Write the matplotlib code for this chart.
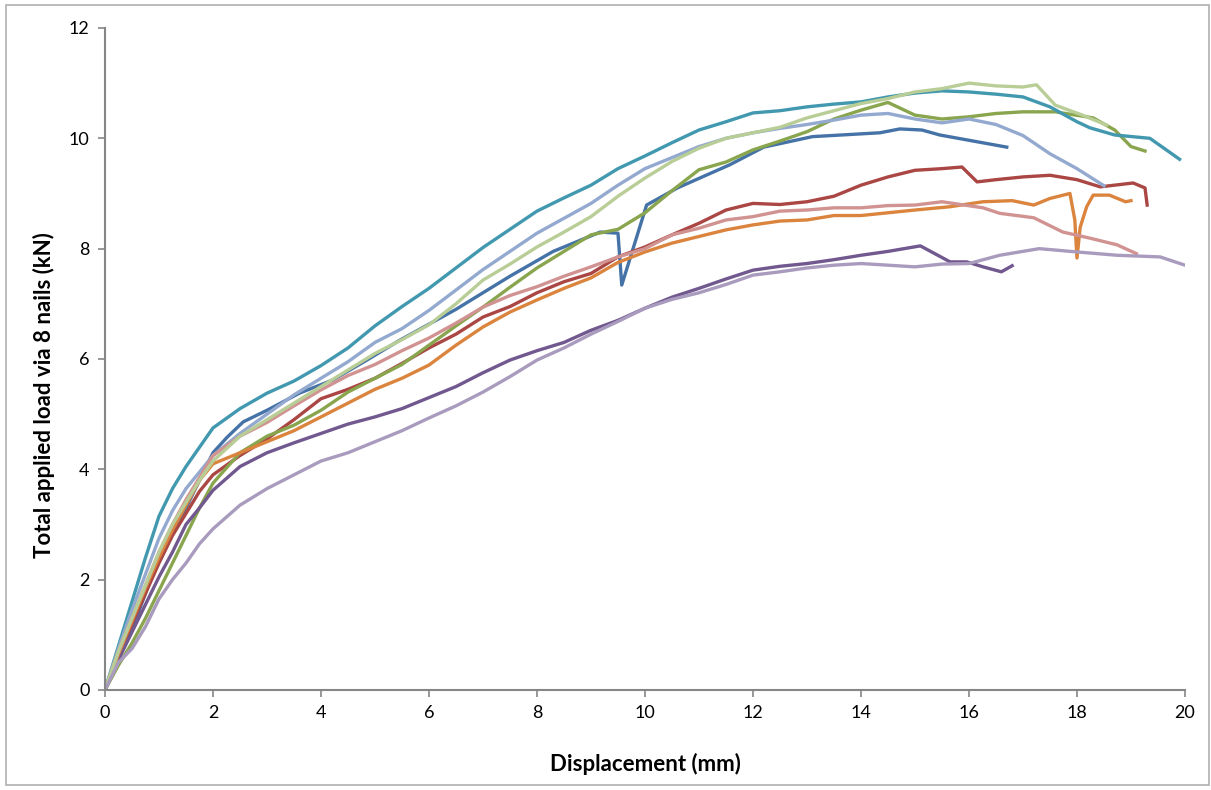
import matplotlib.pyplot as plt
from matplotlib.patches import Rectangle

plt.rcParams['font.family'] = ['Lato', 'DejaVu Sans']

# displacement (mm) / load (kN) pairs, one test per array
blue_x = [0, 0.5, 1, 1.5, 2, 2.26, 2.56, 3.0, 3.6, 4.22, 4.85, 5.46, 6.5, 7.5, 8.3, 9.17, 9.5, 9.57,
          10.03, 10.6, 11.57, 12.2, 13.1, 14.35, 14.72, 15.13, 15.46, 16.7]
blue_y = [0, 1.1, 2.4, 3.3, 4.3, 4.58, 4.86, 5.07, 5.38, 5.62, 5.98, 6.34, 6.9, 7.5, 7.95, 8.3, 8.28, 7.34,
          8.79, 9.1, 9.52, 9.84, 10.03, 10.1, 10.17, 10.15, 10.06, 9.84]

red_x = [0, 0.25, 0.5, 0.75, 1, 1.25, 1.5, 1.75, 2, 2.5, 3, 3.5, 4, 4.5, 5, 5.5, 6, 6.5, 7, 7.5, 8, 8.5,
         9, 9.5, 10, 10.5, 11, 11.5, 12, 12.5, 13, 13.5, 14, 14.5, 15, 15.5, 15.87, 16.15, 16.5, 17, 17.5,
         18, 18.43, 19.04, 19.26, 19.3]
red_y = [0, 0.6, 1.2, 1.75, 2.3, 2.8, 3.2, 3.6, 3.9, 4.25, 4.55, 4.9, 5.28, 5.45, 5.65, 5.92, 6.2, 6.45,
         6.76, 6.95, 7.2, 7.4, 7.55, 7.85, 8.03, 8.25, 8.46, 8.7, 8.82, 8.8, 8.85, 8.95, 9.15, 9.3, 9.42,
         9.45, 9.48, 9.21, 9.25, 9.3, 9.33, 9.25, 9.12, 9.19, 9.1, 8.79]

green_x = [0, 0.25, 0.5, 0.75, 1, 1.25, 1.5, 1.75, 2, 2.5, 3, 3.5, 4, 4.5, 5, 5.5, 6, 6.5, 7, 7.5, 8,
           8.5, 9, 9.5, 10, 10.5, 11, 11.5, 12, 12.5, 13, 13.5, 14, 14.5, 15, 15.5, 16, 16.5, 17, 17.6,
           18.3, 18.7, 19.0, 19.26]
green_y = [0, 0.45, 0.85, 1.3, 1.8, 2.3, 2.8, 3.3, 3.75, 4.3, 4.6, 4.8, 5.07, 5.4, 5.65, 5.9, 6.25, 6.6,
           6.94, 7.3, 7.65, 7.95, 8.25, 8.35, 8.65, 9.05, 9.43, 9.57, 9.79, 9.95, 10.12, 10.35, 10.51,
           10.65, 10.42, 10.35, 10.39, 10.45, 10.48, 10.48, 10.37, 10.15, 9.85, 9.77]

purple_x = [0, 0.25, 0.5, 0.75, 1, 1.25, 1.5, 1.75, 2, 2.5, 3, 3.5, 4, 4.5, 5, 5.5, 6, 6.5, 7, 7.5, 8,
            8.5, 9, 9.5, 10, 10.5, 11, 11.5, 12, 12.5, 13, 13.5, 14, 14.5, 15.1, 15.65, 15.96, 16.26,
            16.6, 16.8]
purple_y = [0, 0.55, 1.05, 1.55, 2.05, 2.5, 3.0, 3.3, 3.62, 4.05, 4.3, 4.48, 4.65, 4.82, 4.95, 5.1, 5.3,
            5.5, 5.75, 5.98, 6.15, 6.3, 6.52, 6.7, 6.92, 7.12, 7.28, 7.45, 7.61, 7.68, 7.73, 7.8, 7.88,
            7.95, 8.05, 7.76, 7.76, 7.67, 7.58, 7.69]

teal_x = [0, 0.25, 0.5, 0.75, 1, 1.25, 1.5, 1.75, 2, 2.5, 3, 3.5, 4, 4.5, 5, 5.5, 6, 6.5, 7, 7.5, 8,
          8.5, 9, 9.5, 10, 10.5, 11, 11.5, 12, 12.5, 13, 13.5, 14, 14.5, 15, 15.5, 16, 16.5, 17, 17.5,
          18, 18.24, 18.7, 19.35, 19.9]
teal_y = [0, 0.8, 1.6, 2.4, 3.15, 3.65, 4.05, 4.4, 4.75, 5.1, 5.38, 5.6, 5.88, 6.2, 6.6, 6.95, 7.28,
          7.65, 8.02, 8.35, 8.68, 8.92, 9.15, 9.45, 9.68, 9.92, 10.15, 10.3, 10.46, 10.5, 10.57, 10.62,
          10.66, 10.75, 10.82, 10.86, 10.84, 10.8, 10.75, 10.57, 10.3, 10.19, 10.06, 10.0, 9.62]

orange_x = [0, 0.25, 0.5, 0.75, 1, 1.25, 1.5, 1.75, 2, 2.5, 3, 3.5, 4, 4.5, 5, 5.5, 6, 6.5, 7, 7.5, 8,
            8.5, 9, 9.5, 10, 10.5, 11, 11.5, 12, 12.5, 13, 13.5, 14, 14.5, 15, 15.65, 16.26, 16.8,
            17.2, 17.5, 17.87, 17.96, 18.0, 18.06, 18.18, 18.3, 18.6, 18.9, 19.0]
orange_y = [0, 0.65, 1.25, 1.85, 2.4, 2.9, 3.35, 3.8, 4.1, 4.3, 4.5, 4.7, 4.95, 5.2, 5.45, 5.65, 5.89,
            6.25, 6.58, 6.85, 7.07, 7.28, 7.47, 7.75, 7.94, 8.1, 8.22, 8.34, 8.43, 8.5, 8.52, 8.6, 8.6,
            8.65, 8.7, 8.76, 8.85, 8.87, 8.79, 8.91, 9.0, 8.52, 7.83, 8.39, 8.76, 8.97, 8.97, 8.85, 8.87]

ltblue_x = [0, 0.25, 0.5, 0.75, 1, 1.25, 1.5, 1.75, 2, 2.5, 3, 3.5, 4, 4.5, 5, 5.5, 6, 6.5, 7, 7.5, 8,
            8.5, 9, 9.5, 10, 10.5, 11, 11.5, 12, 12.5, 13, 13.5, 14, 14.5, 15, 15.5, 16, 16.5, 17,
            17.5, 18, 18.5]
ltblue_y = [0, 0.75, 1.45, 2.1, 2.75, 3.25, 3.65, 3.95, 4.25, 4.65, 5.0, 5.35, 5.65, 5.95, 6.3, 6.55,
            6.88, 7.25, 7.62, 7.95, 8.28, 8.55, 8.82, 9.15, 9.45, 9.65, 9.85, 10.0, 10.1, 10.18, 10.25,
            10.33, 10.42, 10.45, 10.35, 10.28, 10.35, 10.25, 10.05, 9.72, 9.45, 9.14]

pink_x = [0, 0.25, 0.5, 0.75, 1, 1.25, 1.5, 1.75, 2, 2.5, 3, 3.5, 4, 4.5, 5, 5.5, 6, 6.5, 7, 7.5, 8,
          8.5, 9, 9.5, 10, 10.5, 11, 11.5, 12, 12.5, 13, 13.5, 14, 14.5, 15, 15.5, 16.26, 16.57, 17.2,
          17.74, 18.24, 18.74, 19.1]
pink_y = [0, 0.7, 1.3, 1.9, 2.5, 3.0, 3.45, 3.85, 4.25, 4.6, 4.85, 5.15, 5.44, 5.7, 5.9, 6.15, 6.38,
          6.65, 6.94, 7.15, 7.31, 7.5, 7.67, 7.85, 8.0, 8.25, 8.37, 8.52, 8.58, 8.68, 8.7, 8.74, 8.74,
          8.78, 8.79, 8.85, 8.74, 8.64, 8.56, 8.3, 8.19, 8.07, 7.91]

ltgreen_x = [0, 0.25, 0.5, 0.75, 1, 1.25, 1.5, 1.75, 2, 2.5, 3, 3.5, 4, 4.5, 5, 5.5, 6, 6.5, 7, 7.5,
             8, 8.5, 9, 9.5, 10, 10.5, 11, 11.5, 12, 12.5, 13, 13.5, 14, 14.5, 15, 15.5, 16, 16.5,
             17, 17.25, 17.6, 18.1, 18.55]
ltgreen_y = [0, 0.7, 1.3, 1.9, 2.5, 3.0, 3.4, 3.8, 4.15, 4.6, 4.9, 5.2, 5.5, 5.8, 6.1, 6.35, 6.62,
             7.0, 7.43, 7.72, 8.03, 8.3, 8.58, 8.95, 9.28, 9.58, 9.82, 10.0, 10.1, 10.2, 10.37, 10.5,
             10.63, 10.72, 10.84, 10.9, 11.0, 10.95, 10.93, 10.97, 10.6, 10.42, 10.24]

ltpurple_x = [0, 0.25, 0.5, 0.75, 1, 1.25, 1.5, 1.75, 2, 2.5, 3, 3.5, 4, 4.5, 5, 5.5, 6, 6.5, 7, 7.5,
              8, 8.5, 9, 9.5, 10, 10.5, 11, 11.5, 12, 12.5, 13, 13.5, 14, 14.5, 15, 15.5, 16, 16.57,
              17.3, 18.0, 18.74, 19.54, 20.0]
ltpurple_y = [0, 0.5, 0.75, 1.15, 1.65, 2.0, 2.3, 2.65, 2.92, 3.35, 3.65, 3.9, 4.15, 4.3, 4.5, 4.7,
              4.93, 5.15, 5.4, 5.68, 5.98, 6.2, 6.45, 6.68, 6.92, 7.08, 7.2, 7.35, 7.52, 7.58, 7.65,
              7.7, 7.73, 7.7, 7.67, 7.72, 7.73, 7.88, 8.0, 7.94, 7.88, 7.85, 7.7]

series = [
    (blue_x, blue_y, '#4572A7'),
    (red_x, red_y, '#AA4643'),
    (green_x, green_y, '#89A54E'),
    (purple_x, purple_y, '#71588F'),
    (teal_x, teal_y, '#4198AF'),
    (orange_x, orange_y, '#DB843D'),
    (ltblue_x, ltblue_y, '#93A9CF'),
    (pink_x, pink_y, '#D19392'),
    (ltgreen_x, ltgreen_y, '#B9CD96'),
    (ltpurple_x, ltpurple_y, '#A99BBD'),
]

fig = plt.figure(figsize=(12.11, 7.9), dpi=100, facecolor='w')
ax = fig.add_axes([0.0867, 0.1266, 0.8918, 0.838])

for xs, ys, c in series:
    ax.plot(xs, ys, color=c, lw=2.4, solid_joinstyle='round')

ax.set_xlim(0, 20)
ax.set_ylim(0, 12)
ax.set_xticks(range(0, 21, 2))
ax.set_yticks(range(0, 13, 2))
ax.tick_params(direction='out', length=5, width=1.2, color='#868686', labelsize=13, pad=6)
for s in ('top', 'right'):
    ax.spines[s].set_visible(False)
for s in ('left', 'bottom'):
    ax.spines[s].set_color('#868686')
    ax.spines[s].set_linewidth(1.5)

ax.set_xlabel('Displacement (mm)', fontsize=16, fontweight='bold')
ax.set_ylabel('Total applied load via 8 nails (kN)', fontsize=16, fontweight='bold')
ax.xaxis.set_label_coords(0.5, -0.095)
ax.yaxis.set_label_coords(-0.046, 0.446)

fig.patches.append(Rectangle((0.005, 0.006), 0.993, 0.988, transform=fig.transFigure,
                             fill=False, edgecolor='#b0b0b0', lw=1.2))

plt.savefig('out.png', dpi=100)
